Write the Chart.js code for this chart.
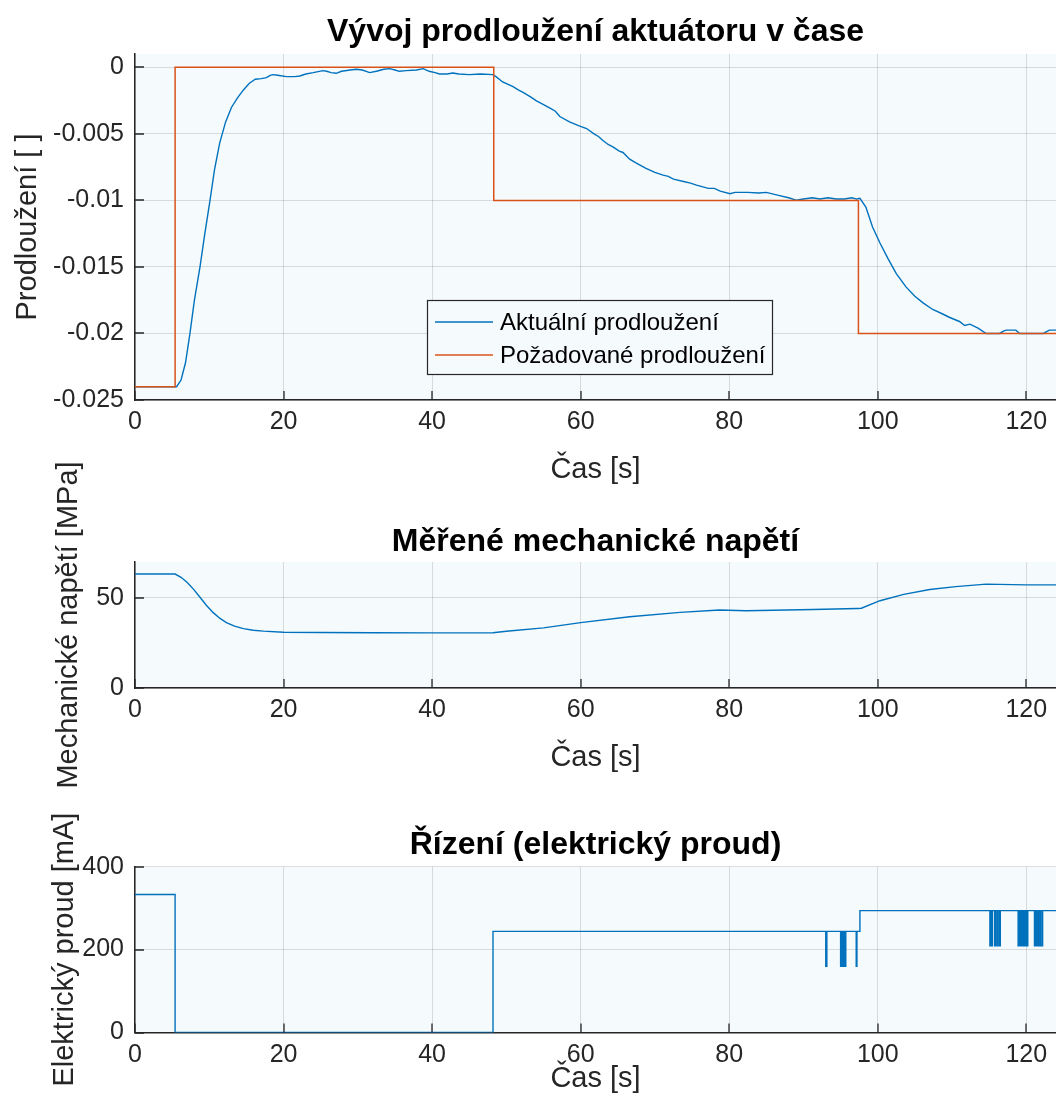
<!DOCTYPE html>
<html lang="cs">
<head>
<meta charset="utf-8">
<title>Vývoj prodloužení aktuátoru v čase</title>
<script src="https://cdn.jsdelivr.net/npm/chart.js@4/dist/chart.umd.min.js"></script>
<style>
  html, body { margin: 0; padding: 0; background: #ffffff; }
  #wrap { position: relative; width: 1056px; height: 1117px; overflow: hidden; }
  #wrap canvas { position: absolute; left: 0; top: 0; }
</style>
</head>
<body>
<div id="wrap">
  <canvas id="extChart" width="1056" height="1117"></canvas>
  <canvas id="stressChart" width="1056" height="1117"></canvas>
  <canvas id="currentChart" width="1056" height="1117"></canvas>
</div>
<script>
// ---- tick values ----
const timeTicks = [0, 20, 40, 60, 80, 100, 120];
const extTicks = [-0.025, -0.02, -0.015, -0.01, -0.005, 0];
const stressTicks = [0, 50];
const currentTicks = [0, 200, 400];

// ---- actuator extension: measured ----
const extTime = [
  0, 5.6, 6.2, 6.8, 7.4, 8.0, 8.75, 9.4, 10.1, 10.7, 11.4, 12.2, 13.0, 13.8, 14.6, 15.4,
  16.2, 17.0, 17.7, 18.2, 18.6, 19.2, 20.4, 21.5, 22.2, 23.0, 24.0, 25.3, 25.8, 26.4, 27.1,
  27.8, 29.0, 29.8, 30.6, 31.6, 32.5, 33.5, 34.3, 35.0, 35.6, 36.5, 37.9, 38.8, 39.6, 40.4,
  41.0, 42.0, 42.8, 43.6, 45.0, 46.5, 48.2, 48.6, 49.5, 50.9, 51.6, 52.3, 53.2, 54.0, 55.0,
  56.0, 56.6, 57.2, 58.5, 59.8, 60.8, 61.8, 62.4, 63.0, 63.7, 64.4, 65.2, 65.7, 66.6, 67.5,
  68.8, 70.0, 71.1, 71.8, 72.5, 74.0, 74.8, 75.6, 77.2, 78.0, 78.8, 80.1, 80.8, 82.5, 84.0,
  85.0, 86.5, 88.0, 89.0, 90.0, 91.2, 92.2, 93.3, 94.4, 95.5, 96.5, 97.2, 97.6, 98.4, 99.3,
  100.3, 101.4, 102.5, 103.8, 105.0, 106.1, 107.4, 108.6, 109.7, 111.0, 111.7, 112.4, 113.5,
  114.6, 116.4, 117.0, 117.3, 118.6, 119.1, 122.3, 123.1, 124.0
];
const extActual = [
  -0.024, -0.024, -0.0235, -0.0222, -0.0200, -0.0175, -0.0150, -0.0125, -0.0100, -0.0077, -0.0057,
  -0.0041, -0.0030, -0.0023, -0.0017, -0.0012, -0.0009, -0.00085, -0.00078, -0.0006, -0.00055,
  -0.0006, -0.0007, -0.0007, -0.00065, -0.0005, -0.0004, -0.00025, -0.0003, -0.0004, -0.00045,
  -0.0003, -0.0002, -0.00015, -0.0002, -0.0004, -0.0003, -0.00015, -0.0001, -0.0002, -0.0003,
  -0.00025, -0.0002, -0.0001, -0.0003, -0.0004, -0.0005, -0.0005, -0.00043, -0.0005, -0.00055,
  -0.0005, -0.00055, -0.0007, -0.0011, -0.00146, -0.0017, -0.0019, -0.0022, -0.0025, -0.0028,
  -0.0031, -0.0033, -0.0037, -0.0041, -0.0044, -0.0046, -0.0050, -0.0052, -0.0055, -0.0058,
  -0.0060, -0.0063, -0.0064, -0.0069, -0.0072, -0.0076, -0.0079, -0.0081, -0.0082, -0.0084,
  -0.0086, -0.0087, -0.00885, -0.0091, -0.0091, -0.0093, -0.0095, -0.0094, -0.0094, -0.00945,
  -0.0094, -0.0096, -0.0098, -0.00998, -0.0099, -0.0098, -0.0099, -0.0098, -0.0099, -0.0099,
  -0.0098, -0.0099, -0.00985, -0.0105, -0.0120, -0.0132, -0.0144, -0.0155, -0.0165, -0.0172,
  -0.0177, -0.0182, -0.0185, -0.0188, -0.0191, -0.0194, -0.0193, -0.0196, -0.0200, -0.0200,
  -0.0198, -0.01975, -0.01975, -0.0200, -0.0200, -0.01975, -0.01975
];

// ---- actuator extension: set point (held until the next time) ----
const refTime = [0, 5.4, 48.3, 97.4, 124];
const refValue = [-0.024, 0, -0.01, -0.02, -0.02];

// ---- measured mechanical stress [MPa] ----
const stressTime = [
  0, 5.4, 6.2, 7.0, 7.9, 8.75, 9.6, 10.5, 11.4, 12.3, 13.4, 14.6, 15.9, 17.3, 20, 25, 32, 40,
  48.2, 50, 55, 60, 66.6, 73.4, 78.7, 82.3, 91.3, 97.2, 97.8, 100.3, 103.5, 107, 110.5, 114.6, 120, 124
];
const stressValue = [
  63.3, 63.3, 61.5, 58.8, 54.8, 50.4, 46.0, 42.0, 38.8, 36.3, 34.4, 33.0, 32.1, 31.6, 31.0, 30.8,
  30.7, 30.6, 30.7, 31.5, 33.4, 36.3, 39.6, 42.0, 43.3, 42.9, 43.6, 44.2, 44.3, 48.5, 52.0, 54.7,
  56.3, 57.7, 57.3, 57.3
];

// ---- control current [mA] (held until the next time) ----
const currentTime = [
  0, 5.4, 48.2, 93.0, 93.15, 95.0, 95.1, 95.15, 95.25, 95.3, 95.4, 95.45, 95.55, 95.6, 95.7,
  97.1, 97.2, 97.6,
  115.1, 115.2, 115.3, 115.45, 115.75, 115.85, 116.05, 116.15, 116.35, 116.5,
  118.9, 119.0, 119.05, 119.15, 119.2, 119.3, 119.35, 119.45, 119.5, 119.6, 119.75, 119.85,
  119.9, 120.0, 120.05, 120.2,
  121.1, 121.2, 121.25, 121.35, 121.4, 121.5, 121.55, 121.65, 121.7, 121.8, 121.85, 121.95,
  122.0, 122.2, 124
];
const currentValue = [
  333, 0, 244, 160, 244, 160, 244, 160, 244, 160, 244, 160, 244, 160, 244,
  160, 244, 294,
  209, 294, 209, 294, 209, 294, 209, 294, 209, 294,
  209, 294, 209, 294, 209, 294, 209, 294, 209, 294, 209, 294,
  209, 294, 209, 294,
  209, 294, 209, 294, 209, 294, 209, 294, 209, 294, 209, 294,
  209, 294, 294
];

// ---- styling ----
const BLUE = '#0072BD';
const ORANGE = '#D95319';
const AXIS = '#262626';
const GRID = 'rgba(38, 38, 38, 0.15)';
const AXES_BG = '#F5FAFD';
const FONT = "'Liberation Sans', Arial, Helvetica, sans-serif";
const TIME_MAX = 124;

Chart.defaults.font.family = FONT;
Chart.defaults.color = AXIS;

const pairs = (xs, ys) => xs.map((x, i) => ({ x, y: ys[i] }));

// light axes background
const axesBackground = {
  id: 'axesBackground',
  beforeDraw(chart) {
    const { ctx, chartArea: a } = chart;
    ctx.save();
    ctx.fillStyle = AXES_BG;
    ctx.fillRect(a.left, a.top, a.right - a.left, a.bottom - a.top);
    ctx.restore();
  }
};

// tick marks pointing into the plot area
const innerTicks = {
  id: 'innerTicks',
  afterDatasetsDraw(chart) {
    const { ctx, chartArea: a, scales: { x, y } } = chart;
    ctx.save();
    ctx.strokeStyle = AXIS;
    ctx.lineWidth = 1.3;
    ctx.beginPath();
    x.ticks.forEach(t => {
      const px = Math.round(x.getPixelForValue(t.value));
      ctx.moveTo(px, a.bottom);
      ctx.lineTo(px, a.bottom - 9);
    });
    y.ticks.forEach(t => {
      const py = Math.round(y.getPixelForValue(t.value));
      ctx.moveTo(a.left, py);
      ctx.lineTo(a.left + 9, py);
    });
    ctx.stroke();
    ctx.restore();
  }
};

// boxed legend inside the plot area
const boxedLegend = {
  id: 'boxedLegend',
  afterDatasetsDraw(chart, args, opts) {
    if (!opts || !opts.show) return;
    const { ctx } = chart;
    const b = opts.box;
    ctx.save();
    ctx.fillStyle = AXES_BG;
    ctx.fillRect(b.x, b.y, b.w, b.h);
    ctx.strokeStyle = AXIS;
    ctx.lineWidth = 1.2;
    ctx.strokeRect(b.x + 0.5, b.y + 0.5, b.w, b.h);
    ctx.font = '24px ' + FONT;
    ctx.textBaseline = 'middle';
    ctx.textAlign = 'left';
    chart.data.datasets.forEach((ds, i) => {
      const yy = b.y + 22 + i * 33;
      ctx.strokeStyle = ds.borderColor;
      ctx.lineWidth = 1.4;
      ctx.beginPath();
      ctx.moveTo(b.x + 8, yy);
      ctx.lineTo(b.x + 66, yy);
      ctx.stroke();
      ctx.fillStyle = '#000000';
      ctx.fillText(ds.label, b.x + 73, yy + 1);
    });
    ctx.restore();
  }
};

function makeChart(id, cfg) {
  return new Chart(document.getElementById(id), {
    type: 'line',
    data: { datasets: cfg.datasets },
    plugins: [axesBackground, innerTicks, boxedLegend],
    options: {
      responsive: false,
      animation: false,
      devicePixelRatio: 1,
      parsing: false,
      layout: { padding: { top: 0, left: 0, right: 0, bottom: cfg.layoutBottom } },
      elements: { point: { radius: 0 }, line: { tension: 0 } },
      plugins: {
        legend: { display: false },
        tooltip: { enabled: false },
        title: {
          display: true,
          fullSize: false,
          text: cfg.title,
          color: '#000000',
          font: { size: 32, weight: 'bold' },
          padding: { top: cfg.titlePad[0], bottom: cfg.titlePad[1] }
        },
        boxedLegend: cfg.legend || { show: false }
      },
      scales: {
        x: {
          type: 'linear',
          min: 0,
          max: TIME_MAX,
          afterBuildTicks: s => { s.ticks = timeTicks.map(v => ({ value: v })); },
          afterFit: s => { s.height = cfg.xHeight; },
          grid: { color: GRID, lineWidth: 1, drawTicks: false },
          border: { display: true, color: AXIS, width: 1.5 },
          ticks: { padding: 7.4, autoSkip: false, maxRotation: 0, color: AXIS, font: { size: 25 } },
          title: {
            display: true,
            text: 'Čas [s]',
            color: AXIS,
            font: { size: 29 },
            padding: { top: 0, bottom: cfg.xTitlePad }
          }
        },
        y: {
          type: 'linear',
          min: cfg.yMin,
          max: cfg.yMax,
          afterBuildTicks: s => { s.ticks = cfg.yTicks.map(v => ({ value: v })); },
          afterFit: s => { s.width = 135; },
          grid: { color: GRID, lineWidth: 1, drawTicks: false },
          border: { display: true, color: AXIS, width: 1.5 },
          ticks: { padding: 11, color: AXIS, font: { size: 25 }, callback: cfg.yFormat },
          title: {
            display: true,
            text: cfg.yLabel,
            color: AXIS,
            font: { size: 29 },
            padding: { top: cfg.yTitlePad, bottom: 0 }
          }
        }
      }
    }
  });
}

makeChart('extChart', {
  title: 'Vývoj prodloužení aktuátoru v čase',
  titlePad: [12.8, 2.8],
  layoutBottom: 617,
  xHeight: 100,
  xTitlePad: 12.6,
  yMin: -0.025,
  yMax: 0.001,
  yTicks: extTicks,
  yFormat: v => String(+Number(v).toFixed(3)),
  yLabel: 'Prodloužení [ ]',
  yTitlePad: 11,
  legend: { show: true, box: { x: 427, y: 300, w: 345, h: 74 } },
  datasets: [
    {
      label: 'Aktuální prodloužení',
      data: pairs(extTime, extActual),
      borderColor: BLUE,
      borderWidth: 1.4,
      order: 1
    },
    {
      label: 'Požadované prodloužení',
      data: pairs(refTime, refValue),
      borderColor: ORANGE,
      borderWidth: 1.5,
      stepped: true,
      order: 0
    }
  ]
});

makeChart('stressChart', {
  title: 'Měřené mechanické napětí',
  titlePad: [522.8, 0.8],
  layoutBottom: 329,
  xHeight: 100,
  xTitlePad: 12.6,
  yMin: 0,
  yMax: 70,
  yTicks: stressTicks,
  yFormat: v => String(v),
  yLabel: 'Mechanické napětí [MPa]',
  yTitlePad: 52,
  datasets: [
    {
      label: 'Mechanické napětí',
      data: pairs(stressTime, stressValue),
      borderColor: BLUE,
      borderWidth: 1.4
    }
  ]
});

makeChart('currentChart', {
  title: 'Řízení (elektrický proud)',
  titlePad: [825.8, 2.5],
  layoutBottom: 0,
  xHeight: 84.5,
  xTitlePad: 20.4,
  yMin: 0,
  yMax: 400,
  yTicks: currentTicks,
  yFormat: v => String(v),
  yLabel: 'Elektrický proud [mA]',
  yTitlePad: 48,
  datasets: [
    {
      label: 'Elektrický proud',
      data: pairs(currentTime, currentValue),
      borderColor: BLUE,
      borderWidth: 1.4,
      stepped: true
    }
  ]
});
</script>
</body>
</html>
